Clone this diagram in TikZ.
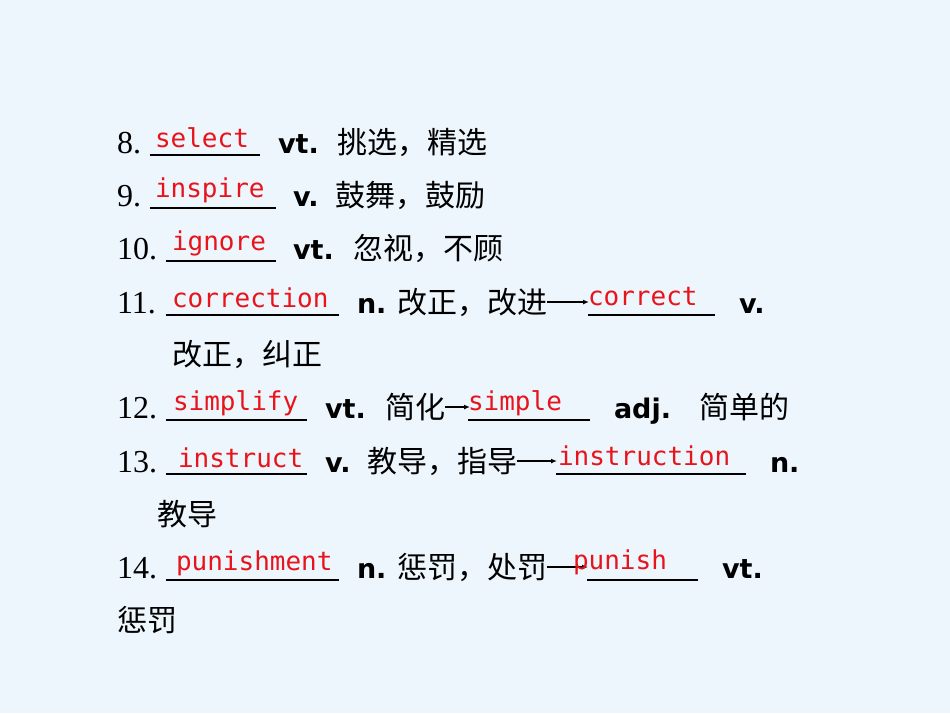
\documentclass[tikz,border=0pt]{standalone}
\usepackage{fontspec}
\usetikzlibrary{arrows.meta}
\setmainfont{Liberation Serif}
\newfontfamily\cjk{Noto Sans CJK SC}
\newfontfamily\mono{DejaVu Sans Mono}
\newfontfamily\bsans{DejaVu Sans}
\definecolor{bg}{HTML}{EEF6FD}
\definecolor{ans}{HTML}{E8141B}
\begin{document}
\begin{tikzpicture}[x=1pt,y=-1pt,
  every node/.style={inner sep=0pt,outer sep=0pt,anchor=base west},
  num/.style={font=\fontsize{32}{32}\selectfont},
  zh/.style={font=\cjk\fontsize{30}{30}\selectfont},
  wpos/.style={font=\bsans\bfseries\fontsize{27}{27}\selectfont},
  answ/.style={font=\mono\fontsize{26}{26}\selectfont,text=ans},
  uline/.style={line width=1.2pt},
  arr/.style={line width=1.5pt,-{Latex[length=6pt,width=5pt]}}]
\fill[bg] (0,0) rectangle (950,713);
\useasboundingbox (0,0) rectangle (950,713);
% 8
\node[num] (n8) at (117,153) {8.};
\draw[uline] (150,155) -- (260,155);
\node[answ] (a8) at (155,147) {select};
\node[wpos] (p8) at (278,153) {vt.};
\node[zh] (z8) at (337,153) {挑选，精选};
% 9
\node[num] (n9) at (117,206) {9.};
\draw[uline] (150,208) -- (276,208);
\node[answ] (a9) at (155,197) {inspire};
\node[wpos] (p9) at (293,206) {v.};
\node[zh] (z9) at (335,206) {鼓舞，鼓励};
% 10
\node[num] (n10) at (117,259) {10.};
\draw[uline] (166,261) -- (276,261);
\node[answ] (a10) at (172,250) {ignore};
\node[wpos] (p10) at (293,259) {vt.};
\node[zh] (z10) at (353,259) {忽视，不顾};
% 11
\node[num] (n11) at (117,313) {11.};
\draw[uline] (166,315) -- (339,315);
\node[answ] (a11) at (172,307) {correction};
\node[wpos] (p11) at (357,313) {n.};
\node[zh] (z11) at (397,313) {改正，改进};
\coordinate (t11) at (589,302);
\draw[arr] (z11.east|-t11) -- (t11);
\draw[uline] (588,315) -- (715,315);
\node[answ] (b11) at (588,305) {correct};
\node[wpos] (q11) at (739,313) {v.};
\node[zh] (y11) at (172,365) {改正，纠正};
% 12
\node[num] (n12) at (117,418) {12.};
\draw[uline] (166,420) -- (307,420);
\node[answ] (a12) at (173,410) {simplify};
\node[wpos] (p12) at (325,418) {vt.};
\node[zh] (z12) at (385,418) {简化};
\coordinate (t12) at (470,407);
\draw[arr] (z12.east|-t12) -- (t12);
\draw[uline] (468,420) -- (590,420);
\node[answ] (b12) at (468,410) {simple};
\node[wpos] (q12) at (614,418) {adj.};
\node[zh] (y12) at (699,418) {简单的};
% 13
\node[num] (n13) at (117,472) {13.};
\draw[uline] (166,474) -- (307,474);
\node[answ] (a13) at (178,467) {instruct};
\node[wpos] (p13) at (325,472) {v.};
\node[zh] (z13) at (367,472) {教导，指导};
\coordinate (t13) at (557,461);
\draw[arr] (z13.east|-t13) -- (t13);
\draw[uline] (556,474) -- (746,474);
\node[answ] (b13) at (558,465) {instruction};
\node[wpos] (q13) at (770,472) {n.};
\node[zh] (y13) at (157,525) {教导};
% 14
\node[num] (n14) at (117,578) {14.};
\draw[uline] (166,580) -- (339,580);
\node[answ] (a14) at (176,570) {punishment};
\node[wpos] (p14) at (357,578) {n.};
\node[zh] (z14) at (397,578) {惩罚，处罚};
\coordinate (t14) at (588,567);
\draw[arr] (z14.east|-t14) -- (t14);
\draw[uline] (587,580) -- (698,580);
\node[answ] (b14) at (573,569) {punish};
\node[wpos] (q14) at (722,578) {vt.};
\node[zh] (y14) at (117,631) {惩罚};
\end{tikzpicture}
\end{document}
